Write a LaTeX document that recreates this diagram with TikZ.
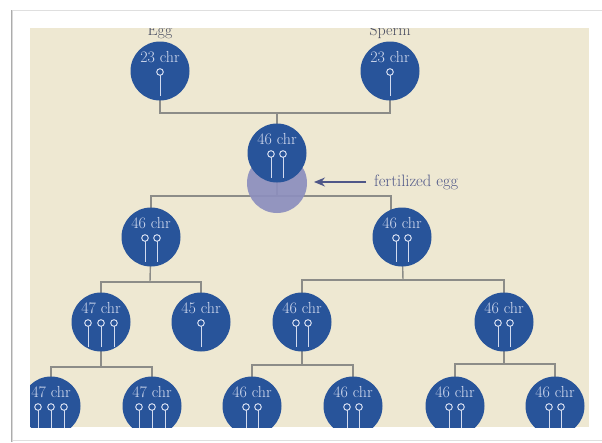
\documentclass[tikz,border=0pt]{standalone}
\usetikzlibrary{arrows.meta}

\definecolor{paper}{HTML}{EEE8D2}
\definecolor{cellblue}{HTML}{28549A}
\definecolor{paleblue}{HTML}{8C8FBE}
\definecolor{chrtext}{HTML}{D3DBEF}
\definecolor{wiregray}{HTML}{8C8C88}
\definecolor{note}{HTML}{4F5788}
\definecolor{titlegray}{HTML}{4A4E62}

\pgfdeclarelayer{panel}
\pgfdeclarelayer{wires}
\pgfsetlayers{panel,wires,main}

% chromosome glyphs (ring on a stalk) below the count, one per x offset
\newcommand\chromset[2]{%
  \begin{scope}[shift={(#1)}]
    \foreach \dx in {#2}{%
      \draw[chromo] (\dx,1) circle[radius=3.3];
      \draw[chromo] (\dx,4.3) -- (\dx,25);
    }
  \end{scope}}

\begin{document}
\begin{tikzpicture}[x=1pt,y=-1pt,
  cell/.style={circle, fill=cellblue, minimum size=59pt, inner sep=0pt,
    label={[font=\fontsize{16}{17}\selectfont, text=chrtext, yshift=13.5pt]center:#1}},
  pale/.style={circle, fill=paleblue, fill opacity=0.92, minimum size=60pt, inner sep=0pt},
  chromo/.style={draw=chrtext, line width=1pt},
  wire/.style={draw=wiregray, line width=1.4pt},
  pointer/.style={draw=note, line width=1.3pt, -{Stealth[length=11pt,width=9pt]}},
  notetext/.style={text=note, font=\fontsize{16.5}{18}\selectfont, inner sep=0pt},
  titletext/.style={text=titlegray, font=\fontsize{16}{18}\selectfont, inner sep=0pt}]

\useasboundingbox (0,0) rectangle (602,442);

% page frame and the beige panel, kept on the lowest layer
\begin{pgfonlayer}{panel}
  \fill[white] (0,0) rectangle (602,442);
  \draw[gray!25, line width=1pt] (11,10) -- (602,10);
  \draw[gray!25, line width=1pt] (11,440) -- (602,440);
  \draw[gray!30, line width=2.5pt] (12,10) -- (12,442);
  \draw[gray!65, line width=1pt] (11,10) -- (11,442);
  \fill[paper] (30,28) rectangle (589,427);
\end{pgfonlayer}

\begin{scope}
\clip (30,28) rectangle (589,427);

% gametes
\node[titletext, anchor=base] (eggt) at (160,35) {Egg};
\node[titletext, anchor=base] (spermt) at (390,35) {Sperm};
\node[cell=23 chr] (egg) at (160,71) {};
\node[cell=23 chr] (sperm) at (390,71) {};

% zygote
\node[pale] (fert) at (277,183) {};
\node[cell=46 chr] (zyg) at (277,153) {};

% second generation
\node[cell=46 chr] (a) at (151,237) {};
\node[cell=46 chr] (b) at (402,237) {};

% third generation
\node[cell=47 chr] (a1) at (101,322) {};
\node[cell=45 chr] (a2) at (201,322) {};
\node[cell=46 chr] (b1) at (302,322) {};
\node[cell=46 chr] (b2) at (504,322) {};

% fourth generation
\node[cell=47 chr] (a11) at (51,406) {};
\node[cell=47 chr] (a12) at (152,406) {};
\node[cell=46 chr] (b11) at (252,406) {};
\node[cell=46 chr] (b12) at (353,406) {};
\node[cell=46 chr] (b21) at (455,406) {};
\node[cell=46 chr] (b22) at (555,406) {};

% chromosomes
\chromset{egg}{0}
\chromset{sperm}{0}
\chromset{zyg}{-6,6}
\chromset{a}{-6,6}
\chromset{b}{-6,6}
\chromset{a1}{-13,0,13}
\chromset{a2}{0}
\chromset{b1}{-6,6}
\chromset{b2}{-6,6}
\chromset{a11}{-13,0,13}
\chromset{a12}{-13,0,13}
\chromset{b11}{-6,6}
\chromset{b12}{-6,6}
\chromset{b21}{-6,6}
\chromset{b22}{-6,6}

% junctions of the family tree
\coordinate (j0) at (277,113);
\coordinate (j1) at (277,196);
\coordinate (ja) at (150,282);
\coordinate (jb) at (403,280);
\coordinate (ja1) at (101,367);
\coordinate (jb1) at (302,365);
\coordinate (jb2) at (504,364);

\begin{pgfonlayer}{wires}
  \draw[wire] (egg.center) |- (j0) -| (sperm.center);
  \draw[wire] (j0) -- (zyg.center);
  \draw[wire] (zyg.center) -- (j1);
  \draw[wire] (a.center) |- (j1) -| ([xshift=-11pt]b.center);
  \draw[wire] (a.center) -- (ja);
  \draw[wire] (a1.center) |- (ja) -| (a2.center);
  \draw[wire] (b.center) -- (jb);
  \draw[wire] (b1.center) |- (jb) -| (b2.center);
  \draw[wire] (a1.center) -- (ja1);
  \draw[wire] (a11.center) |- (ja1) -| (a12.center);
  \draw[wire] (b1.center) -- (jb1);
  \draw[wire] (b11.center) |- (jb1) -| (b12.center);
  \draw[wire] (b2.center) -- (jb2);
  \draw[wire] (b21.center) |- (jb2) -| (b22.center);
\end{pgfonlayer}

% fertilized egg callout
\node[notetext, anchor=west] (fertlbl) at (374,182) {fertilized egg};
\coordinate (fertptr) at (314,182);
\draw[pointer] ([xshift=-8pt]fertlbl.west) -- (fertptr);
\end{scope}
\end{tikzpicture}
\end{document}
